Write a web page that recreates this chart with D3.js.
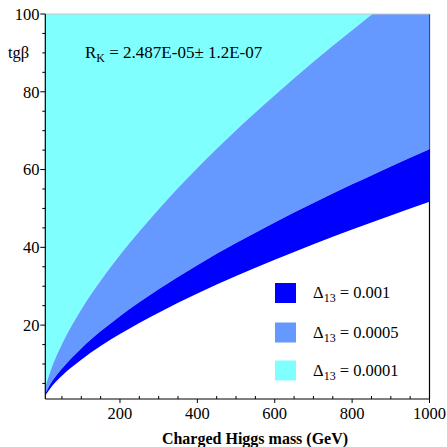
<!DOCTYPE html>
<html><head><meta charset="utf-8">
<script src="https://cdn.jsdelivr.net/npm/d3@7"></script>
<style>body{margin:0;background:#fff}svg{display:block}text{font-family:"Liberation Serif","Times New Roman",serif;fill:#000}</style>
</head><body>
<svg id="c" width="447" height="447"></svg>
<script>
// Charged Higgs mass (GeV)
const masses = [7, 25, 50, 100, 150, 200, 300, 400, 500, 600, 700, 800, 850, 900, 1000];
// boundary tan(beta) values
const lowD001  = [1.9, 4.4, 7.0, 11.1, 14.6, 17.7, 23.2, 28.1, 32.6, 36.8, 40.8, 44.6, 46.4, 48.2, 51.7];
const lowD0005 = [2.4, 5.6, 8.8, 14.0, 18.4, 22.3, 29.2, 35.4, 41.1, 46.4, 51.4, 56.2, 58.5, 60.8, 65.2];
const lowD0001 = [4.1, 9.5, 15.1, 24.0, 31.4, 38.0, 49.8, 60.4, 70.1, 79.1, 87.7, 95.8, 99.8, 103.7, 111.2];
const xTicks = [200, 400, 600, 800, 1000];
const yTicks = [20, 40, 60, 80, 100];
const legendLabels = ["0.001", "0.0005", "0.0001"];
const colors = ["#0000ff", "#6699ff", "#80ffff"];

const svg = d3.select("#c");
const L = 45.3, R = 429.5, T = 14, B = 399;
const x = d3.scaleLinear().domain([7, 1000]).range([L, R]);
const y = d3.scaleLinear().domain([1, 100]).range([B, T]);

svg.append("defs").append("clipPath").attr("id","clip")
  .append("rect").attr("x",L).attr("y",T).attr("width",R-L+0.5).attr("height",B-T);

// right border (under fills)
svg.append("line").attr("x1",R).attr("x2",R).attr("y1",T).attr("y2",B).attr("stroke","#000").attr("stroke-width",1.2);

const g = svg.append("g").attr("clip-path","url(#clip)");
const data = masses.map((m,i)=>({m, a:lowD001[i], b:lowD0005[i], c:lowD0001[i]}));
const area = (f0,f1)=>d3.area().x(d=>x(d.m)).y0(d=>y(f0(d))).y1(d=>y(f1(d))).curve(d3.curveMonotoneX);
g.append("path").datum(data).attr("fill",colors[2]).attr("d",area(d=>d.c,d=>120)(data));
g.append("path").datum(data).attr("fill",colors[1]).attr("d",area(d=>d.b,d=>d.c)(data));
g.append("path").datum(data).attr("fill",colors[0]).attr("d",area(d=>d.a,d=>d.b)(data));

// top gray line
svg.append("line").attr("x1",L).attr("x2",R).attr("y1",T).attr("y2",T).attr("stroke","#c8c8c8").attr("stroke-width",1);

// axes
svg.append("line").attr("x1",L).attr("x2",L).attr("y1",T).attr("y2",B).attr("stroke","#000").attr("stroke-width",1.2);
svg.append("line").attr("x1",L).attr("x2",R).attr("y1",B).attr("y2",B).attr("stroke","#000").attr("stroke-width",1.2);

// y ticks
d3.range(5,101,5).forEach(v=>{
  const major = yTicks.includes(v);
  svg.append("line").attr("x1",L-(major?5:3)).attr("x2",L).attr("y1",y(v)).attr("y2",y(v)).attr("stroke","#000").attr("stroke-width",1);
});
yTicks.forEach(v=>{
  svg.append("text").attr("x",39.5).attr("y",y(v)).attr("dy","0.35em").attr("text-anchor","end").attr("font-size",16.5).text(v);
});
// x ticks
d3.range(50,1001,50).forEach(v=>{
  const major = xTicks.includes(v);
  if(major) svg.append("line").attr("x1",x(v)).attr("x2",x(v)).attr("y1",B).attr("y2",B+4).attr("stroke","#000").attr("stroke-width",1);
  else svg.append("line").attr("x1",x(v)).attr("x2",x(v)).attr("y1",B-3).attr("y2",B).attr("stroke","#000").attr("stroke-width",1);
});
xTicks.forEach(v=>{
  svg.append("text").attr("x",x(v)).attr("y",413.5).attr("dy","0.35em").attr("text-anchor","middle").attr("font-size",16.5).text(v);
});

// axis labels
svg.append("text").attr("x",255).attr("y",444).attr("text-anchor","middle").attr("font-size",16).attr("font-weight","bold").text("Charged Higgs mass (GeV)");
svg.append("text").attr("x",8).attr("y",58).attr("font-size",16.5).text("tgβ");

// annotation
const ann = svg.append("text").attr("x",85).attr("y",58).attr("font-size",17);
ann.append("tspan").text("R");
ann.append("tspan").attr("font-size",12).attr("dy",4).text("K");
ann.append("tspan").attr("dy",-4).text(" = 2.487E-05± 1.2E-07");

// legend
const ly = [283, 322.5, 360.5];
legendLabels.forEach((lab,i)=>{
  svg.append("rect").attr("x",275).attr("y",ly[i]).attr("width",21).attr("height",20).attr("fill",colors[i]);
  const t = svg.append("text").attr("x",313).attr("y",ly[i]+15).attr("font-size",16.5);
  t.append("tspan").text("Δ");
  t.append("tspan").attr("font-size",12).attr("dy",4).text("13");
  t.append("tspan").attr("dy",-4).text(" = "+lab);
});
</script>
</body></html>
